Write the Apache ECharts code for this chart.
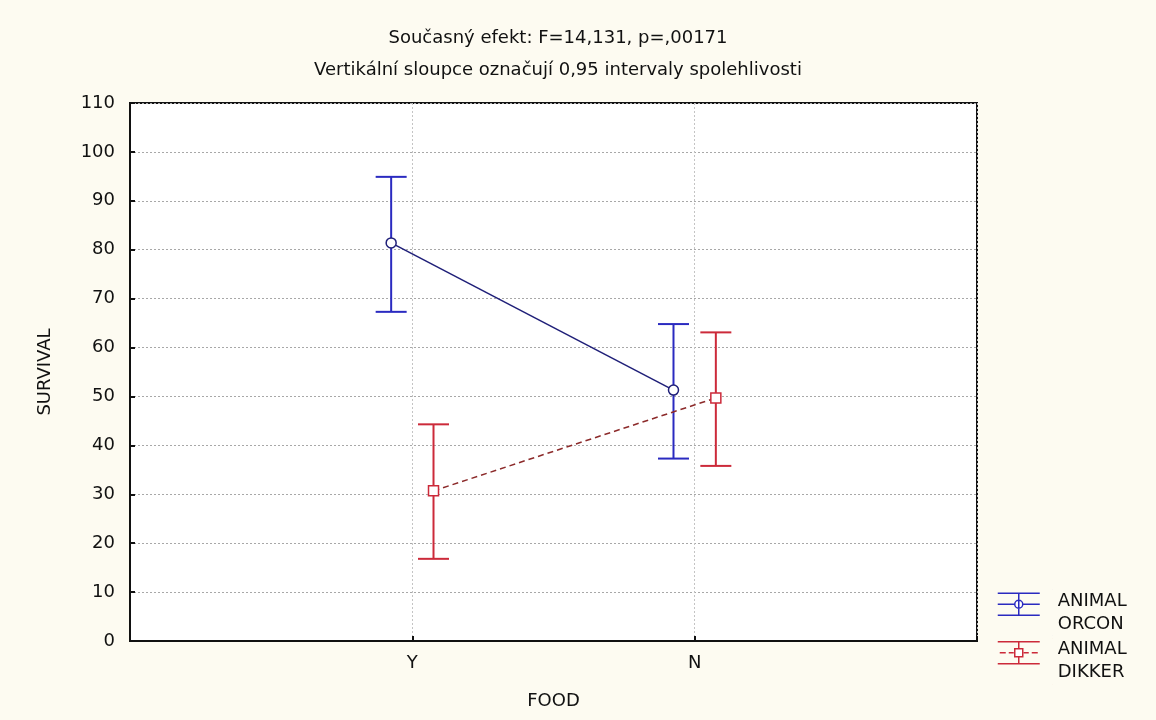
<!DOCTYPE html>
<html>
<head>
<meta charset="utf-8">
<script src="https://cdn.jsdelivr.net/npm/echarts@6/dist/echarts.min.js"></script>
<style>html,body{margin:0;padding:0;background:#fdfbf1;}#chart{width:1156px;height:720px;}</style>
</head>
<body>
<div id="chart"></div>
<script>
const categories = ['Y', 'N'];
const orconMean = [81.4, 51.3];
const orconLow = [67.3, 37.3];
const orconHigh = [94.9, 64.8];
const dikkerMean = [30.7, 49.7];
const dikkerLow = [16.8, 35.8];
const dikkerHigh = [44.3, 63.1];
const yTicks = [0, 10, 20, 30, 40, 50, 60, 70, 80, 90, 100, 110];
const titleLine1 = 'Současný efekt: F=14,131, p=,00171';
const titleLine2 = 'Vertikální sloupce označují 0,95 intervaly spolehlivosti';
const orconName = 'ANIMAL\nORCON';
const dikkerName = 'ANIMAL\nDIKKER';

const FONT = 'DejaVu Sans';
const BLUE = '#2a2ac0';
const BLUE_LINE = '#1f1f78';
const RED = '#cc2a3a';
const RED_LINE = '#8c2a2a';
const OFFSET = 0.075;

function errorBars(name, lows, highs, offset, color) {
  return {
    type: 'custom',
    name: name,
    z: 2,
    data: categories.map((c, i) => [i + 1 + offset, lows[i], highs[i]]),
    encode: { x: 0, y: [1, 2] },
    renderItem: function (params, api) {
      const x = api.value(0);
      const pLo = api.coord([x, api.value(1)]);
      const pHi = api.coord([x, api.value(2)]);
      const hw = 15.5;
      const st = { stroke: color, lineWidth: 2 };
      return {
        type: 'group',
        children: [
          { type: 'line', shape: { x1: pHi[0], y1: pHi[1], x2: pLo[0], y2: pLo[1] }, style: st },
          { type: 'line', shape: { x1: pHi[0] - hw, y1: pHi[1], x2: pHi[0] + hw, y2: pHi[1] }, style: st },
          { type: 'line', shape: { x1: pLo[0] - hw, y1: pLo[1], x2: pLo[0] + hw, y2: pLo[1] }, style: st }
        ]
      };
    }
  };
}

function meanLine(name, means, offset, lineColor, markColor, symbol, dashed) {
  return {
    type: 'line',
    name: name,
    z: 3,
    data: categories.map((c, i) => [i + 1 + offset, means[i]]),
    symbol: symbol,
    symbolSize: 10,
    showAllSymbol: true,
    lineStyle: { color: lineColor, width: 1.5, type: dashed ? [6, 4] : 'solid' },
    itemStyle: { color: '#ffffff', borderColor: markColor, borderWidth: 1.5 },
    emphasis: { disabled: true }
  };
}

// legend icon box 55 x 46: icon drawn in x 0..42, y 3.5..25.5; tiny corner marks fix the box
const BOX = 'M54.98 0H55M54.98 46H55';
const orconIcon = 'path://' + BOX +
  'M0 3.5H42M21 3.5V25.5M0 25.5H42M0 14.5H17M25 14.5H42' +
  'M25 14.5A4 4 0 1 1 17 14.5A4 4 0 1 1 25 14.5Z';
const dikkerIcon = 'path://' + BOX +
  'M0 3.5H42M21 3.5V10.5M21 18.5V25.5M0 25.5H42' +
  'M2 14.5H8M11 14.5H16M26 14.5H31M34 14.5H40M17 10.5H25V18.5H17Z';

const chart = echarts.init(document.getElementById('chart'));
chart.setOption({
  backgroundColor: '#fdfbf1',
  animation: false,
  textStyle: { fontFamily: FONT },
  title: {
    text: titleLine1,
    subtext: titleLine2,
    left: 553,
    top: 24,
    textAlign: 'center',
    itemGap: 14,
    textStyle: { fontFamily: FONT, fontSize: 18, fontWeight: 'normal', color: '#111' },
    subtextStyle: { fontFamily: FONT, fontSize: 18, color: '#111' }
  },
  legend: {
    orient: 'vertical',
    left: 992,
    top: 584,
    itemWidth: 55,
    itemHeight: 46,
    itemGap: 1,
    symbolKeepAspect: false,
    textStyle: { fontFamily: FONT, fontSize: 18, color: '#111', lineHeight: 23 },
    data: [
      { name: orconName, icon: orconIcon, itemStyle: { color: '#ffffff', borderColor: BLUE, borderWidth: 1.5 } },
      { name: dikkerName, icon: dikkerIcon, itemStyle: { color: '#ffffff', borderColor: RED, borderWidth: 1.5 } }
    ]
  },
  grid: {
    left: 130, right: 179, top: 103, bottom: 79,
    show: true,
    backgroundColor: '#ffffff',
    borderColor: '#111',
    borderWidth: 2
  },
  xAxis: {
    type: 'value',
    min: 0, max: 3, interval: 1,
    name: 'FOOD',
    nameLocation: 'middle',
    nameGap: 51,
    nameTextStyle: { fontFamily: FONT, fontSize: 18, color: '#111' },
    axisLine: { lineStyle: { color: '#111', width: 2 } },
    axisTick: { inside: true, length: 5, lineStyle: { color: '#111', width: 2 } },
    axisLabel: {
      margin: 13, fontFamily: FONT, fontSize: 18, color: '#111',
      formatter: v => (v >= 1 && v <= categories.length ? categories[v - 1] : '')
    },
    splitLine: { show: true, lineStyle: { color: '#c4c4c4', type: [2, 2], width: 1 } }
  },
  yAxis: {
    type: 'value',
    min: yTicks[0], max: yTicks[yTicks.length - 1], interval: yTicks[1] - yTicks[0],
    name: 'SURVIVAL',
    nameLocation: 'middle',
    nameRotate: 90,
    nameGap: 76,
    nameTextStyle: { fontFamily: FONT, fontSize: 18, color: '#111' },
    axisLine: { show: true, lineStyle: { color: '#111', width: 2 } },
    axisTick: { show: true, inside: true, length: 5, lineStyle: { color: '#111', width: 2 } },
    axisLabel: { margin: 15, fontFamily: FONT, fontSize: 18, color: '#111' },
    splitLine: { show: true, lineStyle: { color: '#a8a8a8', type: [2, 2], width: 1 } }
  },
  series: [
    errorBars(orconName, orconLow, orconHigh, -OFFSET, BLUE),
    errorBars(dikkerName, dikkerLow, dikkerHigh, OFFSET, RED),
    meanLine(orconName, orconMean, -OFFSET, BLUE_LINE, BLUE_LINE, 'circle', false),
    meanLine(dikkerName, dikkerMean, OFFSET, RED_LINE, RED, 'rect', true)
  ]
});
</script>
</body>
</html>
